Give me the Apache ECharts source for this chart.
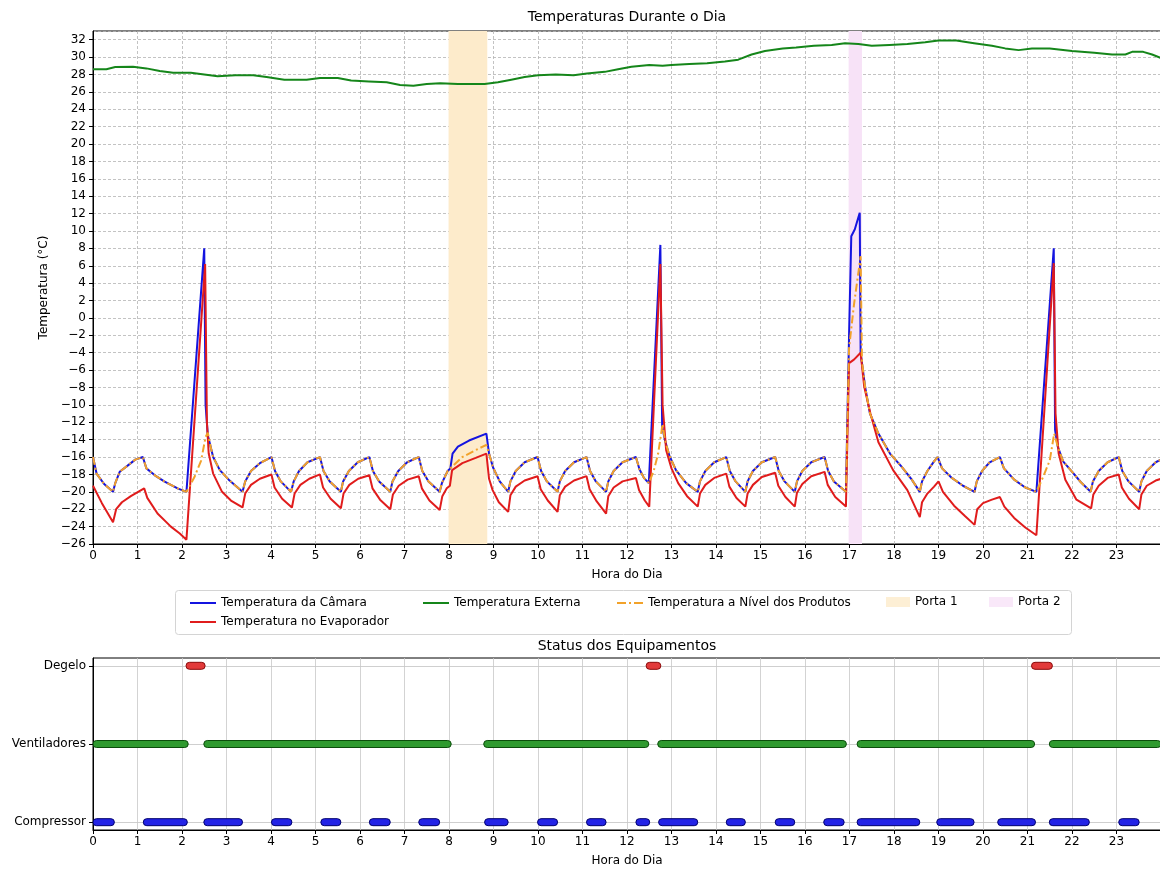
<!DOCTYPE html>
<html><head><meta charset="utf-8">
<script src="https://cdn.jsdelivr.net/npm/echarts@6/dist/echarts.min.js"></script>
<style>html,body{margin:0;padding:0;background:#fff}#c{width:1160px;height:869px}</style>
</head><body><div id="c"></div>
<script>
// ---------- DATA ----------
const camara = [
[0,-16],[0.08,-17.9],[0.25,-19.1],[0.45,-20],
[0.5,-19],[0.6,-17.7],[0.8,-16.9],[0.95,-16.3],[1.12,-16],
[1.2,-17.3],[1.39,-18.1],[1.6,-18.8],[1.9,-19.6],[2.1,-20],
[2.5,8],[2.53,-10],[2.58,-13.5],[2.7,-16],[2.85,-17.5],[3.05,-18.6],[3.36,-20],
[3.42,-18.8],[3.55,-17.6],[3.75,-16.7],[4.01,-16],
[4.09,-17.6],[4.22,-18.8],[4.45,-20],
[4.51,-18.8],[4.63,-17.6],[4.82,-16.6],[5.1,-16],
[5.18,-17.6],[5.32,-18.8],[5.57,-20],
[5.62,-18.8],[5.75,-17.6],[5.95,-16.6],[6.21,-16],
[6.29,-17.6],[6.43,-18.8],[6.68,-20],
[6.73,-18.8],[6.86,-17.6],[7.06,-16.6],[7.32,-16],
[7.4,-17.6],[7.54,-18.8],[7.79,-20],
[7.84,-19],[7.97,-17.6],[8.03,-17.3],[8.08,-15.6],[8.2,-14.8],[8.45,-14.1],[8.84,-13.3],
[8.9,-15.6],[8.99,-17.2],[9.14,-18.8],[9.33,-20],
[9.38,-18.8],[9.5,-17.6],[9.7,-16.6],[9.99,-16],
[10.07,-17.6],[10.2,-18.8],[10.44,-20],
[10.49,-18.8],[10.61,-17.6],[10.81,-16.6],[11.09,-16],
[11.17,-17.6],[11.3,-18.8],[11.53,-20],
[11.58,-18.8],[11.7,-17.6],[11.9,-16.6],[12.2,-16],
[12.28,-17.4],[12.38,-18.4],[12.49,-19],
[12.75,8.4],[12.79,-12.5],[12.85,-14],[12.95,-15.8],[13.1,-17.5],[13.33,-19],[13.59,-20],
[13.64,-18.8],[13.76,-17.6],[13.96,-16.6],[14.23,-16],
[14.31,-17.6],[14.44,-18.8],[14.66,-20],
[14.71,-18.8],[14.83,-17.6],[15.03,-16.6],[15.33,-16],
[15.41,-17.6],[15.54,-18.8],[15.77,-20],
[15.82,-18.8],[15.94,-17.6],[16.14,-16.6],[16.44,-16],
[16.52,-17.6],[16.65,-18.8],[16.92,-20],
[16.99,-2],[17.04,9.4],[17.12,10.2],[17.23,12.1],[17.25,-4],[17.35,-7.9],[17.46,-11],[17.65,-13.3],[17.91,-15.6],[18.17,-17.1],[18.4,-18.6],[18.58,-20],
[18.63,-18.8],[18.75,-17.6],[18.9,-16.5],[18.98,-16],
[19.08,-17.3],[19.3,-18.4],[19.55,-19.3],[19.81,-20],
[19.86,-18.8],[19.98,-17.6],[20.15,-16.6],[20.38,-16],
[20.47,-17.3],[20.7,-18.6],[20.95,-19.5],[21.2,-20],
[21.59,8],[21.62,-12.9],[21.68,-14.8],[21.8,-16.5],[21.97,-17.5],[22.2,-18.9],[22.42,-20],
[22.47,-18.8],[22.6,-17.6],[22.8,-16.6],[23.05,-16],
[23.13,-17.6],[23.27,-18.8],[23.51,-20],
[23.56,-18.8],[23.68,-17.6],[23.88,-16.6],[24,-16.3]
];

const evaporador = [
[0,-19.3],[0.2,-21.3],[0.45,-23.5],[0.52,-22],[0.65,-21.2],[0.85,-20.5],[1.15,-19.6],
[1.22,-20.7],[1.45,-22.5],[1.75,-24],[1.95,-24.8],[2.1,-25.5],
[2.52,6.2],[2.56,-12],[2.6,-15.6],[2.7,-17.9],[2.9,-20],[3.1,-21],[3.36,-21.8],
[3.42,-20.2],[3.55,-19.2],[3.75,-18.5],[4.01,-18],
[4.08,-19.5],[4.25,-20.8],[4.47,-21.8],
[4.53,-20.2],[4.66,-19.2],[4.86,-18.5],[5.1,-18],
[5.17,-19.5],[5.34,-20.8],[5.57,-21.9],
[5.63,-20.2],[5.76,-19.2],[5.96,-18.5],[6.21,-18.1],
[6.28,-19.6],[6.45,-20.9],[6.68,-22],
[6.74,-20.3],[6.87,-19.3],[7.07,-18.6],[7.32,-18.2],
[7.39,-19.6],[7.56,-21],[7.79,-22.1],
[7.85,-20.5],[7.95,-19.6],[8.02,-19.3],[8.07,-17.5],[8.3,-16.7],[8.6,-16.1],[8.84,-15.6],
[8.9,-18.5],[8.98,-19.8],[9.12,-21.2],[9.33,-22.3],
[9.38,-20.4],[9.5,-19.4],[9.7,-18.7],[9.99,-18.2],
[10.06,-19.7],[10.22,-21],[10.44,-22.3],
[10.49,-20.4],[10.61,-19.4],[10.81,-18.7],[11.09,-18.2],
[11.16,-19.7],[11.32,-21.1],[11.53,-22.5],
[11.58,-20.5],[11.7,-19.5],[11.9,-18.8],[12.2,-18.4],
[12.27,-19.8],[12.4,-21],[12.5,-21.7],
[12.75,6.2],[12.8,-10],[12.88,-15.2],[13.0,-17.3],[13.15,-19],[13.35,-20.5],[13.59,-21.7],
[13.64,-20.2],[13.76,-19.2],[13.96,-18.4],[14.23,-17.9],
[14.3,-19.4],[14.46,-20.7],[14.66,-21.7],
[14.71,-20.2],[14.83,-19.2],[15.03,-18.3],[15.33,-17.8],
[15.4,-19.3],[15.56,-20.6],[15.77,-21.7],
[15.82,-20.1],[15.94,-19.1],[16.14,-18.2],[16.44,-17.7],
[16.51,-19.2],[16.68,-20.6],[16.92,-21.7],
[16.99,-5.2],[17.1,-4.8],[17.25,-4.0],[17.33,-7.9],[17.47,-11],[17.65,-14.3],[17.98,-17.5],[18.3,-19.8],[18.58,-22.9],
[18.63,-21.2],[18.75,-20.2],[18.9,-19.4],[19.0,-18.8],
[19.1,-20],[19.35,-21.6],[19.6,-22.8],[19.81,-23.8],
[19.87,-22],[20.0,-21.3],[20.2,-20.9],[20.38,-20.6],
[20.48,-21.7],[20.7,-23],[20.95,-24.1],[21.2,-25],
[21.59,6.3],[21.63,-11],[21.7,-15.6],[21.85,-18.6],[22.1,-20.9],[22.43,-21.9],
[22.48,-20.3],[22.6,-19.3],[22.8,-18.4],[23.05,-18],
[23.12,-19.5],[23.28,-20.8],[23.51,-22],
[23.56,-20.3],[23.68,-19.3],[23.88,-18.7],[24,-18.5]
];

const externa = [
[0,28.6],[0.3,28.6],[0.5,28.85],[0.9,28.9],[1.2,28.7],[1.5,28.4],[1.8,28.2],[2.2,28.2],
[2.5,28.0],[2.8,27.8],[3.2,27.9],[3.6,27.9],[3.9,27.7],[4.3,27.4],[4.8,27.4],[5.1,27.6],
[5.5,27.6],[5.8,27.3],[6.2,27.2],[6.6,27.1],[6.9,26.8],[7.2,26.7],[7.5,26.9],[7.8,27.0],
[8.2,26.9],[8.8,26.9],[9.1,27.1],[9.4,27.4],[9.7,27.7],[10.0,27.9],[10.4,28.0],[10.8,27.9],
[11.1,28.1],[11.5,28.3],[11.8,28.6],[12.1,28.9],[12.5,29.1],[12.8,29.0],[13.0,29.1],[13.4,29.2],
[13.8,29.3],[14.2,29.5],[14.5,29.7],[14.8,30.3],[15.1,30.7],[15.5,31.0],[15.8,31.1],[16.2,31.3],
[16.6,31.4],[16.9,31.6],[17.2,31.5],[17.5,31.3],[17.9,31.4],[18.3,31.5],[18.7,31.7],[19.0,31.9],
[19.4,31.9],[19.8,31.6],[20.2,31.3],[20.5,31.0],[20.8,30.8],[21.1,31.0],[21.5,31.0],[22.0,30.7],
[22.5,30.5],[22.9,30.3],[23.2,30.3],[23.35,30.6],[23.6,30.6],[23.8,30.3],[24.0,29.9]
];

const produtos = [
[0,-16],[0.08,-17.9],[0.25,-19.1],[0.45,-20],
[0.5,-19],[0.6,-17.7],[0.8,-16.9],[0.95,-16.3],[1.12,-16],
[1.2,-17.3],[1.39,-18.1],[1.6,-18.8],[1.9,-19.6],[2.1,-20],
[2.28,-18.3],[2.43,-16.4],[2.53,-13.7],[2.58,-13.2],[2.66,-15.2],[2.7,-16],[2.85,-17.5],[3.05,-18.6],[3.36,-20],
[3.42,-18.8],[3.55,-17.6],[3.75,-16.7],[4.01,-16],
[4.09,-17.6],[4.22,-18.8],[4.45,-20],
[4.51,-18.8],[4.63,-17.6],[4.82,-16.6],[5.1,-16],
[5.18,-17.6],[5.32,-18.8],[5.57,-20],
[5.62,-18.8],[5.75,-17.6],[5.95,-16.6],[6.21,-16],
[6.29,-17.6],[6.43,-18.8],[6.68,-20],
[6.73,-18.8],[6.86,-17.6],[7.06,-16.6],[7.32,-16],
[7.4,-17.6],[7.54,-18.8],[7.79,-20],
[7.84,-19],[7.97,-17.6],[8.03,-17.3],[8.3,-16],[8.6,-15.2],[8.84,-14.6],
[8.9,-15.6],[8.99,-17.2],[9.14,-18.8],[9.33,-20],
[9.38,-18.8],[9.5,-17.6],[9.7,-16.6],[9.99,-16],
[10.07,-17.6],[10.2,-18.8],[10.44,-20],
[10.49,-18.8],[10.61,-17.6],[10.81,-16.6],[11.09,-16],
[11.17,-17.6],[11.3,-18.8],[11.53,-20],
[11.58,-18.8],[11.7,-17.6],[11.9,-16.6],[12.2,-16],
[12.28,-17.4],[12.38,-18.4],[12.49,-19],
[12.6,-17.6],[12.7,-15.6],[12.8,-12.2],[12.85,-14],[12.95,-15.8],[13.1,-17.5],[13.33,-19],[13.59,-20],
[13.64,-18.8],[13.76,-17.6],[13.96,-16.6],[14.23,-16],
[14.31,-17.6],[14.44,-18.8],[14.66,-20],
[14.71,-18.8],[14.83,-17.6],[15.03,-16.6],[15.33,-16],
[15.41,-17.6],[15.54,-18.8],[15.77,-20],
[15.82,-18.8],[15.94,-17.6],[16.14,-16.6],[16.44,-16],
[16.52,-17.6],[16.65,-18.8],[16.92,-20],
[16.99,-3.5],[17.1,1.5],[17.25,7.1],[17.28,-5],[17.35,-7.9],[17.46,-11],[17.65,-13.3],[17.91,-15.6],[18.17,-17.1],[18.4,-18.6],[18.58,-20],
[18.63,-18.8],[18.75,-17.6],[18.9,-16.5],[18.98,-16],
[19.08,-17.3],[19.3,-18.4],[19.55,-19.3],[19.81,-20],
[19.86,-18.8],[19.98,-17.6],[20.15,-16.6],[20.38,-16],
[20.47,-17.3],[20.7,-18.6],[20.95,-19.5],[21.2,-20],
[21.35,-18.3],[21.5,-16.4],[21.6,-13.3],[21.68,-14.8],[21.8,-16.5],[21.97,-17.5],[22.2,-18.9],[22.42,-20],
[22.47,-18.8],[22.6,-17.6],[22.8,-16.6],[23.05,-16],
[23.13,-17.6],[23.27,-18.8],[23.51,-20],
[23.56,-18.8],[23.68,-17.6],[23.88,-16.6],[24,-16.3]
];

const porta1 = [7.99, 8.86];
const porta2 = [16.98, 17.28];

const statusLabels = ['Compressor', 'Ventiladores', 'Degelo'];
const compressorOn = [[0,0.48],[1.13,2.12],[2.49,3.36],[4.01,4.47],[5.12,5.57],[6.21,6.68],[7.32,7.79],[8.8,9.33],[9.99,10.44],[11.09,11.53],[12.2,12.51],[12.71,13.59],[14.23,14.66],[15.33,15.77],[16.42,16.88],[17.17,18.58],[18.96,19.8],[20.33,21.18],[21.49,22.39],[23.05,23.51]];
const ventiladoresOn = [[0,2.14],[2.49,8.05],[8.78,12.49],[12.69,16.93],[17.17,21.16],[21.49,24]];
const degeloOn = [[2.09,2.52],[12.43,12.76],[21.09,21.56]];

// ---------- CHART ----------
const F = 'DejaVu Sans';
const C_BLUE = '#1414e0', C_RED = '#e01c1c', C_GREEN = '#15861a', C_ORANGE = '#f2a22a';
const P1 = '#fdebcb', P2 = '#f7e2f7';
const minus = v => (v < 0 ? '\u2212' + Math.abs(v) : String(v));
const DASHDOT_ICON = 'path://M0 0h9v2h-9z M12 0h2v2h-2z M17 0h9v2h-9z';

const statusData = [];
compressorOn.forEach(s => statusData.push([s[0], s[1], 0]));
ventiladoresOn.forEach(s => statusData.push([s[0], s[1], 1]));
degeloOn.forEach(s => statusData.push([s[0], s[1], 2]));
const rowFill = ['#2323e6', '#2f9a2f', '#e23a3a'];
const rowStroke = ['#00006e', '#0b4d0b', '#8a0a0a'];

const axisCommon = {
  axisLine: { show: true, onZero: false, lineStyle: { color: '#000', width: 1 } },
  axisTick: { show: true, inside: false, length: 4, lineStyle: { color: '#000' } },
  axisLabel: { color: '#000', fontFamily: F, fontSize: 12 },
  nameTextStyle: { color: '#000', fontFamily: F, fontSize: 12 }
};

function lg(name, left, top, w, h, extra) {
  return Object.assign({
    data: [name], left: left, top: top, itemWidth: w, itemHeight: h, itemGap: 0, padding: 0,
    selectedMode: false, orient: 'horizontal', symbolKeepAspect: false,
    textStyle: { fontFamily: F, fontSize: 12, color: '#000' }
  }, extra || {});
}

const chart = echarts.init(document.getElementById('c'), null, { renderer: 'canvas' });
chart.setOption({
  animation: false,
  backgroundColor: '#fff',
  title: [
    { text: 'Temperaturas Durante o Dia', left: 627, top: 10, textAlign: 'center', padding: 0,
      textStyle: { fontFamily: F, fontSize: 14, fontWeight: 'normal', color: '#000' } },
    { text: 'Status dos Equipamentos', left: 627, top: 639, textAlign: 'center', padding: 0,
      textStyle: { fontFamily: F, fontSize: 14, fontWeight: 'normal', color: '#000' } }
  ],
  graphic: [{
    type: 'rect', z: 0, silent: true,
    shape: { x: 175.5, y: 590.5, width: 896, height: 44, r: 3 },
    style: { fill: '#fff', stroke: '#d4d4d4', lineWidth: 1 }
  }],
  legend: [
    lg('Temperatura da Câmara', 190, 597, 26, 2, { icon: 'rect' }),
    lg('Temperatura no Evaporador', 190, 616, 26, 2, { icon: 'rect' }),
    lg('Temperatura Externa', 423, 597, 26, 2, { icon: 'rect' }),
    lg('Temperatura a Nível dos Produtos', 617, 597, 26, 2, { icon: DASHDOT_ICON }),
    lg('Porta 1', 886, 596, 24, 10, { icon: 'rect', itemStyle: { color: P1 } }),
    lg('Porta 2', 989, 596, 24, 10, { icon: 'rect', itemStyle: { color: P2 } })
  ],
  grid: [
    { left: 93, right: -1, top: 31, height: 513, outerBoundsMode: 'none', containLabel: false,
      show: true, borderColor: '#000', borderWidth: 1, backgroundColor: 'transparent' },
    { left: 93, right: -1, top: 658, height: 172, outerBoundsMode: 'none', containLabel: false,
      show: true, borderColor: '#000', borderWidth: 1, backgroundColor: 'transparent' }
  ],
  xAxis: [
    Object.assign({}, axisCommon, {
      type: 'value', gridIndex: 0, min: 0, max: 24, interval: 1,
      name: 'Hora do Dia', nameLocation: 'middle', nameGap: 25,
      axisLabel: Object.assign({}, axisCommon.axisLabel, { margin: 6, showMaxLabel: false, formatter: v => (v >= 24 ? '' : String(v)) }),
      splitLine: { show: true, lineStyle: { color: '#b4b4b4', width: 0.8, type: [3, 2] } }
    }),
    Object.assign({}, axisCommon, {
      type: 'value', gridIndex: 1, min: 0, max: 24, interval: 1,
      name: 'Hora do Dia', nameLocation: 'middle', nameGap: 25,
      axisLabel: Object.assign({}, axisCommon.axisLabel, { margin: 6, showMaxLabel: false, formatter: v => (v >= 24 ? '' : String(v)) }),
      splitLine: { show: true, lineStyle: { color: '#c8c8c8', width: 0.8, type: 'solid' } }
    })
  ],
  yAxis: [
    Object.assign({}, axisCommon, {
      type: 'value', gridIndex: 0, min: -26, max: 33, interval: 2,
      name: 'Temperatura (°C)', nameLocation: 'middle', nameGap: 40, nameRotate: 90,
      axisLabel: Object.assign({}, axisCommon.axisLabel, { margin: 7, showMaxLabel: false, formatter: minus }),
      splitLine: { show: true, lineStyle: { color: '#b4b4b4', width: 0.8, type: [3, 2] } }
    }),
    Object.assign({}, axisCommon, {
      type: 'value', gridIndex: 1, min: -0.1, max: 2.1,
      axisTick: Object.assign({}, axisCommon.axisTick, { customValues: [0, 1, 2] }),
      axisLabel: Object.assign({}, axisCommon.axisLabel, { margin: 7, customValues: [0, 1, 2], formatter: v => statusLabels[Math.round(v)] }),
      splitLine: { show: true, lineStyle: { color: '#cfcfcf', width: 1.2, type: 'solid' } }
    })
  ],
  series: [
    { type: 'scatter', name: 'Porta 1', xAxisIndex: 0, yAxisIndex: 0, data: [], itemStyle: { color: P1 }, z: 1,
      markArea: { silent: true, itemStyle: { color: P1 }, data: [[{ xAxis: porta1[0] }, { xAxis: porta1[1] }]] } },
    { type: 'scatter', name: 'Porta 2', xAxisIndex: 0, yAxisIndex: 0, data: [], itemStyle: { color: P2 }, z: 1,
      markArea: { silent: true, itemStyle: { color: P2 }, data: [[{ xAxis: porta2[0] }, { xAxis: porta2[1] }]] } },
    { type: 'line', name: 'Temperatura da Câmara', xAxisIndex: 0, yAxisIndex: 0, data: camara, symbol: 'none', z: 2,
      lineStyle: { color: C_BLUE, width: 2 }, itemStyle: { color: C_BLUE } },
    { type: 'line', name: 'Temperatura no Evaporador', xAxisIndex: 0, yAxisIndex: 0, data: evaporador, symbol: 'none', z: 3,
      lineStyle: { color: C_RED, width: 2 }, itemStyle: { color: C_RED } },
    { type: 'line', name: 'Temperatura Externa', xAxisIndex: 0, yAxisIndex: 0, data: externa, symbol: 'none', z: 4,
      lineStyle: { color: C_GREEN, width: 2 }, itemStyle: { color: C_GREEN } },
    { type: 'line', name: 'Temperatura a Nível dos Produtos', xAxisIndex: 0, yAxisIndex: 0, data: produtos, symbol: 'none', z: 5,
      lineStyle: { color: C_ORANGE, width: 2, type: [8, 3, 2, 3] }, itemStyle: { color: C_ORANGE } },
    { type: 'custom', name: 'status', xAxisIndex: 1, yAxisIndex: 1, data: statusData, z: 6,
      encode: { x: [0, 1], y: 2 },
      renderItem: function (params, api) {
        const row = api.value(2);
        const s = api.coord([api.value(0), row]);
        const e = api.coord([api.value(1), row]);
        const h = 7;
        return { type: 'rect',
          shape: { x: s[0], y: s[1] - h / 2, width: Math.max(e[0] - s[0], 1), height: h, r: 3.5 },
          style: { fill: rowFill[row], stroke: rowStroke[row], lineWidth: 1 } };
      } }
  ]
});
</script>
</body></html>
